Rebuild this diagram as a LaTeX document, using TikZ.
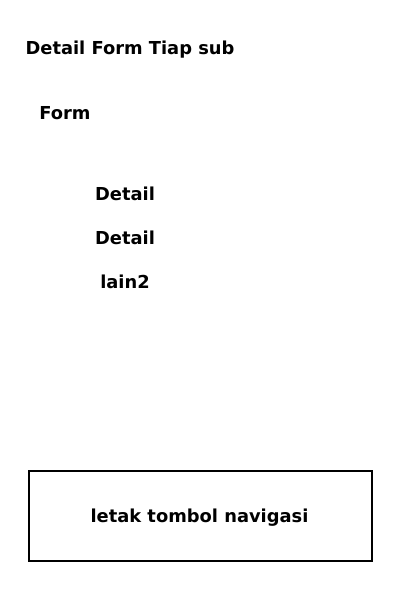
\documentclass[tikz,border=0pt]{standalone}
\usepackage{fontspec}
\setmainfont{DejaVu Sans}
\usetikzlibrary{positioning}

\begin{document}
\begin{tikzpicture}[x=0.025cm,y=-0.025cm]
    \tikzstyle{label} = [font=\fontsize{12.7}{15}\selectfont\bfseries,inner sep=0pt]
    \tikzstyle{navbox} = [draw,line width=1pt,minimum width=8.575cm,minimum height=2.25cm]
    \useasboundingbox (0,0) rectangle (400,600);

    \node[label] (title) at (130,49.5) {Detail Form Tiap sub};
    \node[label] (form) at (65,113.5) {Form};

    \node[label] (det1) at (125,193.5) {Detail};
    \node[label] (det2) at (125,237.5) {Detail};
    \node[label] (lain) at (125,281.5) {lain2};

    \node[navbox] (navbox) at (200.5,516) {};
    \node[label] (nav) at (199.5,517.5) {letak tombol navigasi};

\end{tikzpicture}
\end{document}
